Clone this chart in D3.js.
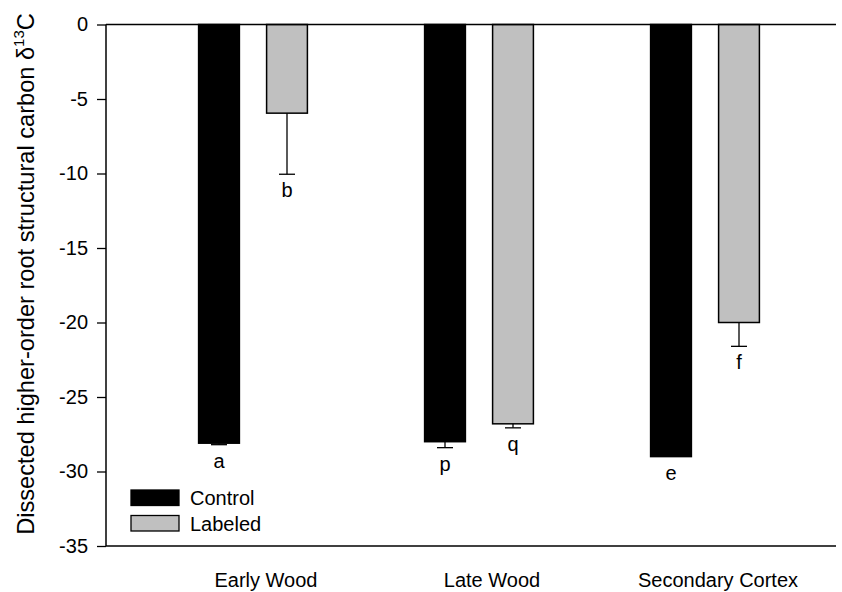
<!DOCTYPE html>
<html>
  <head>
    <meta charset="utf-8">
    <title>Structural carbon d13C</title>
    <script src="https://d3js.org/d3.v7.min.js"></script>
    <style>
      body { margin: 0; background: #fff; font-family: Arial, "Liberation Sans", sans-serif; }
    </style>
  </head>
  <body>
    <svg></svg>
    <script>
      // Data
      var categories = ["Early Wood", "Late Wood", "Secondary Cortex"];
      var series = ["Control", "Labeled"];
      var controlMean = [-28.1, -28.0, -29.0];
      var controlErr = [0.1, 0.4, 0.0];
      var labeledMean = [-5.95, -26.8, -20.0];
      var labeledErr = [4.1, 0.27, 1.6];
      var controlLetters = ["a", "p", "e"];
      var labeledLetters = ["b", "q", "f"];
      var yTicks = [0, -5, -10, -15, -20, -25, -30, -35];

      var width = 842, height = 592;
      var svg = d3.select("svg").attr("width", width).attr("height", height);

      // plot edges (don't call it "top", window.top is taken)
      var pLeft = 106, pRight = 836, pTop = 24.5, pBottom = 546;

      var y = d3.scaleLinear().domain([0, -35]).range([pTop, pBottom]);
      var x0 = d3.scaleBand().domain(categories).range([140, 818]);
      var x1 = d3.scaleBand().domain(series).range([-54.4, 54.4]).paddingInner(0.4);
      var fills = { Control: "#000", Labeled: "#c0c0c0" };

      // rows for each bar
      var rows = [];
      categories.forEach(function(c, i) {
        rows.push({ cat: c, s: "Control", v: controlMean[i], e: controlErr[i], l: controlLetters[i] });
        rows.push({ cat: c, s: "Labeled", v: labeledMean[i], e: labeledErr[i], l: labeledLetters[i] });
      });
      function bx(d) { return x0(d.cat) + x0.bandwidth() / 2 + x1(d.s); }
      function mid(d) { return bx(d) + x1.bandwidth() / 2; }

      // bars
      svg.selectAll("rect.bar").data(rows).enter().append("rect")
        .attr("class", "bar")
        .attr("x", bx)
        .attr("y", y(0))
        .attr("width", x1.bandwidth())
        .attr("height", function(d) { return y(d.v) - y(0); })
        .attr("fill", function(d) { return fills[d.s]; })
        .attr("stroke", "#000")
        .attr("stroke-width", 1.5);

      // error bars (downward only)
      var eb = svg.selectAll("g.err").data(rows.filter(function(d) { return d.e > 0; })).enter().append("g");
      eb.append("line")
        .attr("x1", mid).attr("x2", mid)
        .attr("y1", function(d) { return y(d.v); })
        .attr("y2", function(d) { return y(d.v - d.e); })
        .attr("stroke", "#000").attr("stroke-width", 1.3);
      eb.append("line")
        .attr("x1", function(d) { return mid(d) - 8; })
        .attr("x2", function(d) { return mid(d) + 8; })
        .attr("y1", function(d) { return y(d.v - d.e); })
        .attr("y2", function(d) { return y(d.v - d.e); })
        .attr("stroke", "#000").attr("stroke-width", 1.3);

      // significance letters
      svg.selectAll("text.letter").data(rows).enter().append("text")
        .attr("x", mid)
        .attr("y", function(d) { return y(d.v - d.e) + 23; })
        .attr("text-anchor", "middle")
        .attr("font-size", 20)
        .text(function(d) { return d.l; });

      // axes (plain hyphen for negatives, like the original)
      var yAxis = svg.append("g").attr("transform", "translate(" + pLeft + ",0)")
        .call(d3.axisLeft(y).tickValues(yTicks).tickSize(9).tickPadding(9).tickFormat(function(d) { return String(d); }));
      yAxis.select(".domain").remove();
      yAxis.selectAll("line").attr("stroke-width", 1.3);
      yAxis.selectAll("text").attr("font-size", 20).attr("font-family", "Arial, 'Liberation Sans', sans-serif");
      svg.append("line").attr("x1", pLeft).attr("x2", pLeft).attr("y1", pTop).attr("y2", pBottom)
        .attr("stroke", "#000").attr("stroke-width", 1.5);
      svg.append("line").attr("x1", pLeft).attr("x2", pRight).attr("y1", y(0)).attr("y2", y(0))
        .attr("stroke", "#000").attr("stroke-width", 1.5);
      svg.append("line").attr("x1", pLeft).attr("x2", pRight).attr("y1", pBottom).attr("y2", pBottom)
        .attr("stroke", "#000").attr("stroke-width", 1.5);

      // category labels
      svg.selectAll("text.cat").data(categories).enter().append("text")
        .attr("x", function(d) { return x0(d) + x0.bandwidth() / 2 + 13; })
        .attr("y", 587)
        .attr("text-anchor", "middle")
        .attr("font-size", 20)
        .text(function(d) { return d; });

      // y title
      var title = svg.append("text")
        .attr("transform", "translate(34,274) rotate(-90)")
        .attr("text-anchor", "middle")
        .attr("font-size", 23.6);
      title.append("tspan").text("Dissected higher-order root structural carbon \u03B4");
      title.append("tspan").attr("font-size", 15).attr("dy", -10).text("13");
      title.append("tspan").attr("dy", 10).text("C");

      // legend
      var lg = svg.selectAll("g.legend").data(series).enter().append("g")
        .attr("transform", function(d, i) { return "translate(131," + (490 + i * 25.5) + ")"; });
      lg.append("rect").attr("width", 48).attr("height", 15.5)
        .attr("fill", function(d) { return fills[d]; })
        .attr("stroke", "#000").attr("stroke-width", 1.3);
      lg.append("text").attr("x", 59).attr("y", 15).attr("font-size", 20).text(function(d) { return d; });
    </script>
  </body>
</html>
